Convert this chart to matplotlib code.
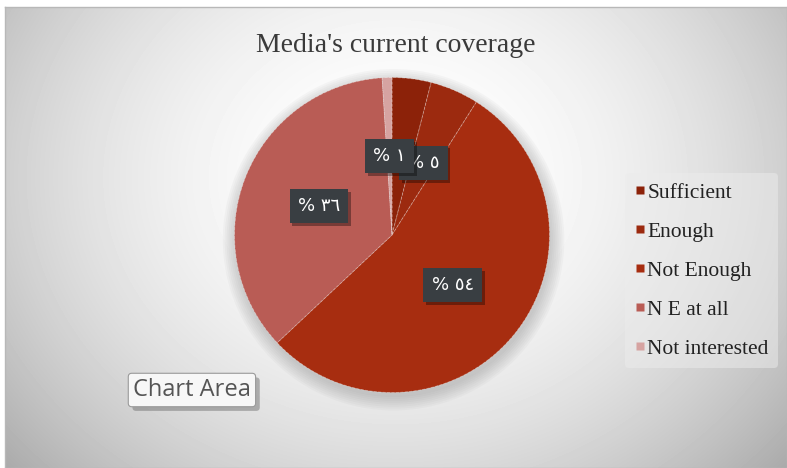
import numpy as np
import matplotlib.pyplot as plt
from matplotlib.lines import Line2D
import matplotlib.patheffects as pe

# Media coverage survey
categories = ["Sufficient", "Enough", "Not Enough", "N E at all", "Not interested"]
shares = [4, 5, 54, 36, 1]
# the Sufficient label sits under the two small ones, so it is left out
arabic_labels = [None, "% \u0665", "% \u0665\u0664", "% \u0663\u0666", "% \u0661"]
slice_colors = ["#8c2209", "#9c2a0f", "#a72d10", "#b95c55", "#d6a3a1"]

W, H = 787, 468
fig = plt.figure(figsize=(W / 100, H / 100), dpi=100)
fig.patch.set_facecolor("white")

# radial grey background of the chart area
bg = fig.add_axes([5 / W, 0, (W - 5) / W, (H - 7) / H])
yy, xx = np.mgrid[0:H - 7, 0:W - 5]
r2 = ((xx - 390) / 450.0) ** 2 + ((yy - 170) / 380.0) ** 2
shade = np.clip(1 - 0.25 * r2, 0, 1)
bg.imshow(shade, cmap="gray", vmin=0, vmax=1, aspect="auto", interpolation="bilinear")
bg.set_xticks([])
bg.set_yticks([])
for s in bg.spines.values():
    s.set_color("#b8b8b8")
    s.set_linewidth(1)

fig.text(396 / W, 1 - 46 / H, "Media's current coverage", ha="center", va="center",
         fontsize=20, family="Liberation Serif", color="#3a3a3a")

# pie
cx, cy, rad = 392, 235, 157.5
ax = fig.add_axes([(cx - rad) / W, (H - cy - rad) / H, 2 * rad / W, 2 * rad / H])

wedges, _ = ax.pie(shares, colors=slice_colors, startangle=90, counterclock=False,
                   radius=1.0, wedgeprops=dict(edgecolor=(1, 1, 1, 0.35), linewidth=0.6,
                                               linestyle="--"))
ax.set_xlim(-1, 1)
ax.set_ylim(-1, 1)
ax.axis("off")
for w in wedges:
    w.set_zorder(2)

# soft shadow under the pie
for i in range(8):
    ax.add_patch(plt.Circle((0.01, -0.03), 1.0 + 0.012 * i, color="#808080",
                            alpha=0.05, lw=0, zorder=0, clip_on=False))

# data labels with shadowed dark boxes
cum = 0.0
for val, txt in zip(shares, arabic_labels):
    mid = np.deg2rad(90.0 - (cum + val / 2) / 100 * 360)
    cum += val
    if txt is None:
        continue
    x, y = 0.5 * np.cos(mid), 0.5 * np.sin(mid)
    t = ax.text(x, y, txt, ha="center", va="center", fontsize=13, family="DejaVu Sans",
                color="white", zorder=5,
                bbox=dict(boxstyle="square,pad=0.45", fc="#393e42", ec="none"))
    t.get_bbox_patch().set_path_effects([
        pe.SimplePatchShadow(offset=(2, -2), shadow_rgbFace="black", alpha=0.35),
        pe.Normal()])

# legend
handles = [Line2D([0], [0], marker="s", linestyle="none", markersize=6,
                  markerfacecolor=c, markeredgecolor="none") for c in slice_colors]
leg = fig.legend(handles, categories, loc="upper left", bbox_to_anchor=(614 / W, 1 - 162 / H),
                 frameon=True, handlelength=0.5, handletextpad=0.1,
                 labelspacing=0.88, borderpad=0.45,
                 prop={"family": "Liberation Serif", "size": 15.5})
leg.get_frame().set_facecolor("#ececec")
leg.get_frame().set_edgecolor("none")
leg.get_frame().set_alpha(0.5)
for t in leg.get_texts():
    t.set_color("#222222")

# "Chart Area" tooltip
tip = fig.text(133 / W, 1 - 390 / H, "Chart Area", ha="left", va="center", fontsize=17,
               family="Open Sans", color="#555555",
               bbox=dict(boxstyle="round,pad=0.2,rounding_size=0.15", fc="#f7f7f7",
                         ec="#9a9a9a", lw=0.8))
tip.get_bbox_patch().set_path_effects([
    pe.SimplePatchShadow(offset=(3, -3), shadow_rgbFace="#666666", alpha=0.45),
    pe.Normal()])

fig.savefig("out.png", dpi=100)
